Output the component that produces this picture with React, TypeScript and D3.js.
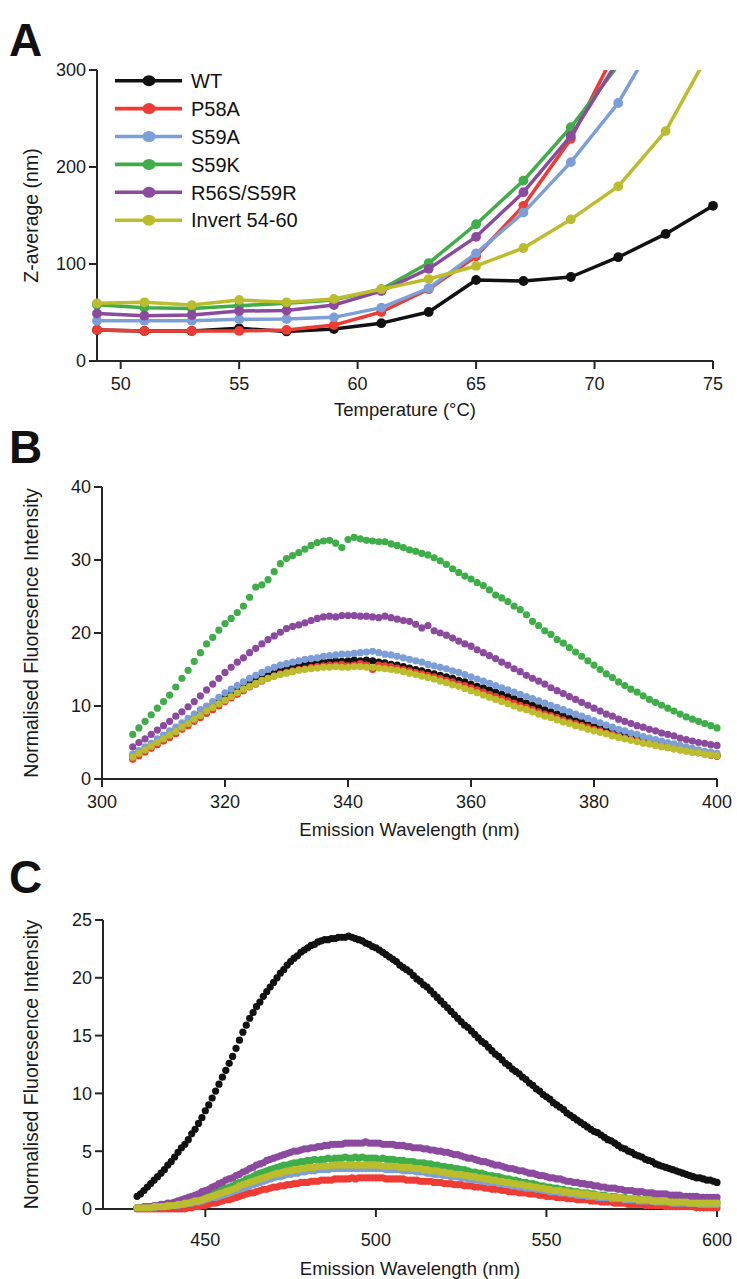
import React from "react";
import * as d3 from "d3";

// ---------- Panel A data ----------
const seriesNames = ["WT", "P58A", "S59A", "S59K", "R56S/S59R", "Invert 54-60"];
const seriesColors = ["#111111", "#ee3b33", "#7c9fd8", "#3fae49", "#8c4a9f", "#bcbd2c"];

const tempC = [49, 51, 53, 55, 57, 59, 61, 63, 65, 67, 69, 71, 73, 75];
const zWT = [32, 31, 31, 33.7, 30.5, 33, 39, 50.5, 83.5, 82.5, 86.6, 107, 131, 160];
const zP58A = [32, 31, 31, 31, 32, 37, 50.5, 74, 108, 160, 229, 325];
const zS59A = [41.5, 41.5, 41.5, 43, 43.3, 45, 55, 75, 111, 153, 205, 266, 350];
const zS59K = [58, 55, 54, 57, 59.5, 63, 74, 101, 141, 186, 241, 305];
const zR56S = [49, 46.7, 47.4, 51.5, 52, 57.7, 72, 95, 128, 174, 232, 310];
const zInvert = [59.5, 60.5, 57.7, 63, 60.5, 64, 74, 84.5, 98, 116.5, 146, 180, 237, 325];
const aSeries = [zWT, zP58A, zS59A, zS59K, zR56S, zInvert];

const aXTicks = [50, 55, 60, 65, 70, 75];
const aYTicks = [0, 100, 200, 300];

// ---------- Panel B data (305-400 nm, 1 nm) ----------
const bStart = 305;
const bWT = [3.1,3.6,4.1,4.6,5.1,5.6,6.1,6.7,7.2,7.8,8.4,8.9,9.5,10.1,10.7,11.2,11.7,12.2,12.7,13.1,13.5,13.9,14.2,14.5,14.8,15.0,15.3,15.5,15.7,15.8,15.9,16.0,16.1,16.2,16.1,16.2,16.3,16.2,16.3,16.2,16.0,15.9,15.7,15.6,15.4,15.2,15.0,14.8,14.6,14.4,14.2,14.0,13.8,13.5,13.3,13.0,12.7,12.5,12.2,11.9,11.6,11.3,11.0,10.7,10.4,10.1,9.8,9.5,9.2,8.9,8.6,8.3,8.0,7.8,7.5,7.2,7.0,6.7,6.5,6.2,6.0,5.8,5.6,5.4,5.2,5.0,4.8,4.6,4.4,4.2,4.0,3.8,3.6,3.5,3.3,3.2];
const bP58A = [2.7,3.2,3.7,4.2,4.7,5.2,5.7,6.2,6.8,7.3,7.9,8.4,9.0,9.5,10.0,10.6,11.1,11.6,12.1,12.6,13.0,13.4,13.8,14.1,14.4,14.6,14.8,15.0,15.1,15.3,15.4,15.5,15.6,15.6,15.7,15.5,15.6,15.8,15.6,15.0,15.6,15.5,15.4,15.2,15.0,14.8,14.6,14.4,14.2,14.0,13.8,13.5,13.3,13.0,12.8,12.5,12.2,11.9,11.6,11.3,11.0,10.7,10.4,10.1,9.8,9.5,9.2,8.9,8.7,8.4,8.1,7.8,7.6,7.3,7.1,6.8,6.6,6.3,6.1,5.9,5.6,5.4,5.2,5.0,4.9,4.7,4.5,4.3,4.2,4.0,3.9,3.7,3.6,3.4,3.3,3.1];
const bS59A = [3.4,3.9,4.4,4.9,5.5,6.0,6.6,7.1,7.7,8.3,8.9,9.5,10.0,10.6,11.2,11.8,12.3,12.8,13.3,13.8,14.2,14.6,15.0,15.3,15.6,15.8,16.0,16.2,16.4,16.5,16.6,16.8,16.9,17.0,17.1,17.1,17.2,17.3,17.4,17.5,17.3,17.1,17.0,16.8,16.6,16.4,16.2,16.0,15.7,15.5,15.3,15.1,14.8,14.6,14.3,14.0,13.7,13.4,13.1,12.8,12.5,12.2,11.9,11.6,11.3,11.0,10.7,10.4,10.1,9.8,9.5,9.2,8.9,8.6,8.3,8.0,7.7,7.4,7.1,6.8,6.6,6.3,6.1,5.8,5.6,5.4,5.2,5.0,4.8,4.6,4.4,4.2,4.0,3.8,3.7,3.5];
const bS59K = [6.1,7.0,7.9,8.8,9.7,10.6,11.5,12.6,13.8,14.9,16.1,17.3,18.5,19.4,20.4,21.3,22.0,22.8,23.7,24.9,26.3,26.6,27.3,28.4,29.5,30.2,30.6,31.0,31.5,32.0,32.4,32.6,32.7,32.3,31.7,32.8,33.1,32.9,32.7,32.6,32.5,32.5,32.2,32.0,31.7,31.4,31.2,30.9,30.7,30.3,29.9,29.4,28.8,28.3,27.8,27.4,26.9,26.5,25.9,25.2,24.8,24.3,23.7,23.2,22.5,21.6,21.0,20.3,19.8,19.1,18.6,18.0,17.4,16.8,16.2,15.6,15.0,14.4,13.9,13.3,12.8,12.3,11.9,11.4,10.9,10.5,10.1,9.7,9.3,8.9,8.5,8.2,7.9,7.6,7.3,7.0];
const bR56S = [4.4,5.0,5.5,6.1,6.7,7.3,7.9,8.6,9.2,9.9,10.6,11.4,12.2,13.0,13.8,14.6,15.3,16.0,16.6,17.3,17.9,18.5,19.1,19.6,20.1,20.6,20.9,21.1,21.4,21.7,22.0,22.2,22.3,22.2,22.4,22.4,22.4,22.3,22.3,22.2,22.1,22.3,22.1,21.9,21.7,21.6,21.2,20.7,21.0,20.3,20.0,19.7,19.3,18.9,18.5,18.2,17.7,17.3,16.9,16.5,16.0,15.6,15.1,14.7,14.2,13.8,13.4,13.0,12.5,12.1,11.7,11.3,10.9,10.5,10.1,9.7,9.3,8.9,8.6,8.2,7.9,7.6,7.3,7.1,6.8,6.6,6.3,6.1,5.9,5.6,5.4,5.2,5.0,4.9,4.7,4.6];
const bInvert = [3.0,3.5,4.0,4.5,5.0,5.5,6.0,6.5,7.1,7.6,8.2,8.7,9.3,9.8,10.3,10.8,11.3,11.8,12.3,12.7,13.1,13.5,13.8,14.1,14.3,14.5,14.7,14.9,15.0,15.1,15.2,15.3,15.3,15.4,15.3,15.3,15.4,15.4,15.3,15.3,15.2,15.1,15.0,14.9,14.7,14.5,14.3,14.1,13.9,13.7,13.4,13.2,12.9,12.7,12.4,12.1,11.8,11.5,11.2,10.9,10.6,10.3,10.0,9.7,9.5,9.2,8.9,8.6,8.4,8.1,7.8,7.6,7.3,7.1,6.8,6.6,6.4,6.2,5.9,5.7,5.5,5.3,5.1,4.9,4.8,4.6,4.4,4.3,4.1,4.0,3.8,3.7,3.6,3.4,3.3,3.2];
const bSeries = [bWT, bP58A, bS59A, bS59K, bR56S, bInvert];

const bXTicks = [300, 320, 340, 360, 380, 400];
const bYTicks = [0, 10, 20, 30, 40];

// ---------- Panel C data (430-600 nm, 1 nm) ----------
const cStart = 430;
const cWT = [1.1,1.3,1.6,1.9,2.2,2.5,2.8,3.1,3.4,3.8,4.1,4.5,4.9,5.3,5.6,6.0,6.5,6.9,7.4,7.9,8.5,9.0,9.6,10.2,10.8,11.4,12.0,12.6,13.2,13.9,14.6,15.3,15.9,16.5,17.0,17.5,17.9,18.4,18.8,19.2,19.6,20.0,20.4,20.7,21.1,21.4,21.7,21.9,22.2,22.4,22.6,22.8,22.9,23.1,23.2,23.3,23.3,23.4,23.4,23.5,23.5,23.5,23.6,23.5,23.4,23.3,23.2,23.0,22.9,22.7,22.6,22.4,22.2,22.0,21.8,21.6,21.4,21.1,20.9,20.7,20.5,20.2,19.9,19.7,19.4,19.2,18.9,18.6,18.3,18.0,17.7,17.4,17.1,16.8,16.5,16.2,15.9,15.7,15.4,15.1,14.8,14.5,14.3,14.0,13.7,13.4,13.2,12.9,12.6,12.4,12.1,11.9,11.7,11.4,11.2,10.9,10.7,10.4,10.2,9.9,9.7,9.5,9.2,9.0,8.8,8.6,8.3,8.1,7.9,7.7,7.5,7.3,7.1,6.9,6.7,6.6,6.4,6.2,6.0,5.9,5.7,5.5,5.3,5.2,5.0,4.9,4.7,4.6,4.5,4.3,4.2,4.1,3.9,3.8,3.7,3.6,3.5,3.4,3.3,3.2,3.1,3.0,2.9,2.8,2.7,2.7,2.6,2.5,2.5,2.4,2.3];
const cP58A = [0,0,0,0,0,0,0,0,0,0,0,0,0,0,0,0.1,0.1,0.2,0.2,0.3,0.3,0.4,0.5,0.5,0.6,0.7,0.8,0.8,0.9,1.0,1.1,1.2,1.3,1.4,1.4,1.5,1.6,1.7,1.7,1.8,1.9,1.9,2.0,2.0,2.1,2.1,2.2,2.2,2.3,2.3,2.3,2.4,2.4,2.4,2.5,2.5,2.5,2.5,2.6,2.6,2.6,2.6,2.6,2.7,2.6,2.7,2.7,2.7,2.7,2.7,2.7,2.7,2.7,2.6,2.6,2.6,2.6,2.6,2.6,2.5,2.5,2.5,2.5,2.4,2.4,2.4,2.4,2.3,2.3,2.3,2.2,2.2,2.2,2.1,2.1,2.1,2.0,2.0,2.0,1.9,1.9,1.9,1.8,1.8,1.7,1.7,1.7,1.6,1.6,1.5,1.5,1.5,1.4,1.4,1.4,1.3,1.3,1.3,1.2,1.2,1.1,1.1,1.1,1.0,1.0,1.0,0.9,0.9,0.9,0.8,0.8,0.8,0.8,0.7,0.7,0.7,0.6,0.6,0.6,0.6,0.5,0.5,0.5,0.5,0.4,0.4,0.4,0.4,0.4,0.3,0.3,0.3,0.3,0.3,0.3,0.2,0.2,0.2,0.2,0.2,0.2,0.2,0.2,0.2,0.1,0.1,0.1,0.1,0.1,0.1,0.1];
const cS59A = [0.1,0.1,0.1,0.1,0.1,0.1,0.2,0.2,0.2,0.2,0.3,0.3,0.3,0.4,0.4,0.5,0.5,0.6,0.6,0.7,0.8,0.9,1.0,1.0,1.1,1.2,1.3,1.4,1.5,1.6,1.7,1.8,1.9,2.0,2.1,2.2,2.3,2.4,2.5,2.6,2.7,2.8,2.8,2.9,3.0,3.0,3.1,3.1,3.2,3.2,3.3,3.3,3.3,3.4,3.4,3.4,3.4,3.5,3.5,3.5,3.5,3.5,3.5,3.5,3.5,3.5,3.5,3.5,3.5,3.5,3.5,3.5,3.5,3.4,3.4,3.4,3.4,3.4,3.3,3.3,3.3,3.3,3.2,3.2,3.2,3.1,3.1,3.0,3.0,3.0,2.9,2.9,2.8,2.8,2.8,2.7,2.7,2.6,2.6,2.5,2.5,2.4,2.4,2.3,2.3,2.3,2.2,2.2,2.1,2.1,2.0,2.0,1.9,1.9,1.8,1.8,1.8,1.7,1.7,1.6,1.6,1.5,1.5,1.5,1.4,1.4,1.4,1.3,1.3,1.2,1.2,1.2,1.1,1.1,1.1,1.0,1.0,1.0,1.0,0.9,0.9,0.9,0.9,0.8,0.8,0.8,0.8,0.7,0.7,0.7,0.7,0.7,0.6,0.6,0.6,0.6,0.6,0.5,0.5,0.5,0.5,0.5,0.5,0.5,0.5,0.4,0.4,0.4,0.4,0.4,0.4];
const cS59K = [0.1,0.1,0.1,0.1,0.2,0.2,0.2,0.3,0.3,0.3,0.4,0.4,0.5,0.5,0.6,0.7,0.7,0.8,0.9,1.0,1.1,1.2,1.3,1.4,1.5,1.7,1.8,1.9,2.0,2.2,2.3,2.4,2.6,2.7,2.8,3.0,3.1,3.2,3.3,3.4,3.5,3.6,3.7,3.8,3.8,3.9,4.0,4.0,4.1,4.1,4.2,4.2,4.3,4.2,4.3,4.3,4.4,4.3,4.4,4.4,4.4,4.5,4.4,4.4,4.5,4.4,4.5,4.4,4.4,4.4,4.4,4.3,4.4,4.3,4.3,4.3,4.2,4.2,4.2,4.1,4.1,4.1,4.0,4.0,4.0,3.9,3.9,3.8,3.8,3.7,3.7,3.6,3.6,3.5,3.5,3.4,3.4,3.3,3.2,3.2,3.1,3.1,3.0,2.9,2.9,2.8,2.8,2.7,2.6,2.6,2.5,2.5,2.4,2.3,2.3,2.2,2.2,2.1,2.0,2.0,1.9,1.9,1.8,1.8,1.7,1.7,1.6,1.6,1.5,1.5,1.4,1.4,1.4,1.3,1.3,1.2,1.2,1.2,1.1,1.1,1.1,1.0,1.0,1.0,0.9,0.9,0.9,0.9,0.8,0.8,0.8,0.8,0.8,0.7,0.7,0.7,0.7,0.7,0.7,0.6,0.6,0.6,0.6,0.6,0.6,0.6,0.6,0.6,0.6,0.6,0.6];
const cR56S = [0.1,0.1,0.2,0.2,0.2,0.3,0.3,0.4,0.4,0.5,0.5,0.6,0.7,0.8,0.9,1.0,1.1,1.2,1.3,1.5,1.6,1.7,1.9,2.0,2.2,2.3,2.5,2.6,2.7,2.9,3.0,3.2,3.3,3.5,3.6,3.8,3.9,4.0,4.2,4.3,4.4,4.5,4.6,4.7,4.8,4.9,5.0,5.0,5.1,5.2,5.2,5.3,5.3,5.4,5.4,5.5,5.5,5.6,5.6,5.6,5.6,5.7,5.7,5.7,5.7,5.7,5.7,5.8,5.7,5.7,5.7,5.7,5.6,5.6,5.6,5.6,5.5,5.5,5.5,5.4,5.4,5.3,5.3,5.3,5.2,5.2,5.1,5.1,5.0,5.0,4.9,4.9,4.8,4.7,4.7,4.6,4.5,4.4,4.4,4.3,4.2,4.1,4.1,4.0,3.9,3.8,3.8,3.7,3.6,3.5,3.5,3.4,3.3,3.3,3.2,3.1,3.1,3.0,2.9,2.9,2.8,2.7,2.7,2.6,2.6,2.5,2.4,2.4,2.3,2.3,2.2,2.2,2.1,2.1,2.0,2.0,1.9,1.9,1.8,1.8,1.8,1.7,1.7,1.6,1.6,1.6,1.5,1.5,1.5,1.4,1.4,1.4,1.3,1.3,1.3,1.3,1.2,1.2,1.2,1.2,1.1,1.1,1.1,1.1,1.1,1.0,1.0,1.0,1.0,1.0,1.0];
const cInvert = [0.1,0.1,0.1,0.1,0.1,0.2,0.2,0.2,0.2,0.3,0.3,0.3,0.4,0.4,0.5,0.5,0.6,0.7,0.7,0.8,0.9,1.0,1.1,1.2,1.3,1.4,1.5,1.6,1.7,1.8,2.0,2.1,2.2,2.3,2.4,2.5,2.6,2.7,2.8,2.9,3.0,3.1,3.1,3.2,3.3,3.3,3.4,3.4,3.5,3.5,3.6,3.6,3.6,3.7,3.7,3.7,3.7,3.8,3.8,3.8,3.8,3.8,3.8,3.8,3.8,3.8,3.8,3.8,3.8,3.8,3.8,3.8,3.7,3.7,3.7,3.7,3.7,3.6,3.6,3.6,3.6,3.5,3.5,3.5,3.4,3.4,3.3,3.3,3.3,3.2,3.2,3.1,3.1,3.0,3.0,3.0,2.9,2.9,2.8,2.8,2.7,2.7,2.6,2.6,2.5,2.5,2.4,2.4,2.3,2.3,2.2,2.2,2.1,2.1,2.0,2.0,1.9,1.9,1.8,1.8,1.7,1.7,1.6,1.6,1.6,1.5,1.5,1.4,1.4,1.4,1.3,1.3,1.3,1.2,1.2,1.2,1.1,1.1,1.1,1.0,1.0,1.0,1.0,0.9,0.9,0.9,0.9,0.8,0.8,0.8,0.8,0.7,0.7,0.7,0.7,0.7,0.6,0.6,0.6,0.6,0.6,0.6,0.5,0.5,0.5,0.5,0.5,0.5,0.5,0.5,0.5];
const cSeries = [cWT, cP58A, cS59A, cS59K, cR56S, cInvert];

const cXTicks = [450, 500, 550, 600];
const cYTicks = [0, 5, 10, 15, 20, 25];

const FONT = "'Liberation Sans', Arial, Helvetica, sans-serif";
const AX = "#262626";

type Lin = d3.ScaleLinear<number, number>;

function Axes({ x, y, xTicks, yTicks, xTitle, yTitle, xLabY, xTitleY, yTitleX }: {
  x: Lin; y: Lin; xTicks: number[]; yTicks: number[]; xTitle: string; yTitle: string;
  xLabY: number; xTitleY: number; yTitleX: number;
}) {
  const [x0, x1] = x.range();
  const [y0, y1] = y.range();
  const tl = 8;
  const yMid = (y0 + y1) / 2;
  const xMid = (x0 + x1) / 2;
  return (
    <g fontFamily={FONT} fill="#1a1a1a">
      <line x1={x0} x2={x0} y1={y0 + 1} y2={y1} stroke={AX} strokeWidth={2} />
      <line x1={x0 - 1} x2={x1} y1={y0} y2={y0} stroke={AX} strokeWidth={2} />
      {yTicks.map((t) => (
        <g key={"y" + t}>
          <line x1={x0 - tl} x2={x0} y1={y(t)} y2={y(t)} stroke={AX} strokeWidth={2} />
          <text x={x0 - tl - 3} y={y(t)} dy="0.35em" textAnchor="end" fontSize={18}>{t}</text>
        </g>
      ))}
      {xTicks.map((t) => (
        <g key={"x" + t}>
          <line x1={x(t)} x2={x(t)} y1={y0} y2={y0 + tl} stroke={AX} strokeWidth={2} />
          <text x={x(t)} y={xLabY} textAnchor="middle" fontSize={18}>{t}</text>
        </g>
      ))}
      <text x={xMid} y={xTitleY} textAnchor="middle" fontSize={18.5}>{xTitle}</text>
      <text transform={`translate(${yTitleX},${yMid}) rotate(-90)`} textAnchor="middle" fontSize={19.5}>{yTitle}</text>
    </g>
  );
}

export default function App() {
  // Panel A scales
  const ax = d3.scaleLinear().domain([49, 75]).range([97, 713]);
  const ay = d3.scaleLinear().domain([0, 300]).range([361, 70]);
  // Panel B scales
  const bx = d3.scaleLinear().domain([300, 400]).range([102, 717]);
  const by = d3.scaleLinear().domain([0, 40]).range([779, 487]);
  // Panel C scales
  const cx = d3.scaleLinear().domain([420, 600]).range([103, 717]);
  const cy = d3.scaleLinear().domain([0, 25]).range([1209, 920]);

  const lineA = d3.line<number>().x((_, i) => ax(tempC[i])).y((d) => ay(d));

  return (
    <svg width={737} height={1279} style={{ position: "absolute", left: 0, top: 0, background: "#fff" }}>
      <defs>
        <clipPath id="clipA">
          <rect x={90} y={70} width={640} height={300} />
        </clipPath>
      </defs>
      <rect x={0} y={0} width={737} height={1279} fill="#fff" />

      {/* Panel letters */}
      <text x={9} y={56} fontFamily={FONT} fontWeight="bold" fontSize={46} fill="#111">A</text>
      <text x={9} y={463} fontFamily={FONT} fontWeight="bold" fontSize={46} fill="#111">B</text>
      <text x={9} y={893} fontFamily={FONT} fontWeight="bold" fontSize={46} fill="#111">C</text>

      {/* Panel A */}
      <Axes x={ax} y={ay} xTicks={aXTicks} yTicks={aYTicks} xTitle="Temperature (°C)" yTitle="Z-average (nm)"
        xLabY={390} xTitleY={416} yTitleX={38} />
      <g clipPath="url(#clipA)">
        {aSeries.map((s, k) => (
          <g key={k}>
            <path d={lineA(s) || ""} fill="none" stroke={seriesColors[k]} strokeWidth={3.5} strokeLinejoin="round" />
            {s.map((v, i) => (
              <circle key={i} cx={ax(tempC[i])} cy={ay(v)} r={4.9} fill={seriesColors[k]} />
            ))}
          </g>
        ))}
      </g>
      {/* Legend */}
      <g fontFamily={FONT}>
        {seriesNames.map((n, k) => {
          const yy = 80.7 + k * 27.9;
          return (
            <g key={n}>
              <line x1={115} x2={182} y1={yy} y2={yy} stroke={seriesColors[k]} strokeWidth={3.6} />
              <ellipse cx={149} cy={yy} rx={6.5} ry={5.5} fill={seriesColors[k]} />
              <text x={191} y={yy} dy="0.36em" fontSize={20} fill="#111">{n}</text>
            </g>
          );
        })}
      </g>

      {/* Panel B */}
      <Axes x={bx} y={by} xTicks={bXTicks} yTicks={bYTicks} xTitle="Emission Wavelength (nm)"
        yTitle="Normalised Fluoresence Intensity" xLabY={808} xTitleY={836} yTitleX={38} />
      {bSeries.map((s, k) => (
        <g key={k} fill={seriesColors[k]}>
          {s.map((v, i) => (
            <circle key={i} cx={bx(bStart + i)} cy={by(v)} r={3.6} />
          ))}
        </g>
      ))}

      {/* Panel C */}
      <Axes x={cx} y={cy} xTicks={cXTicks} yTicks={cYTicks} xTitle="Emission Wavelength (nm)"
        yTitle="Normalised Fluoresence Intensity" xLabY={1246} xTitleY={1275} yTitleX={38} />
      {cSeries.map((s, k) => (
        <g key={k} fill={seriesColors[k]}>
          {s.map((v, i) => (
            <circle key={i} cx={cx(cStart + i)} cy={cy(v)} r={3.6} />
          ))}
        </g>
      ))}
    </svg>
  );
}
